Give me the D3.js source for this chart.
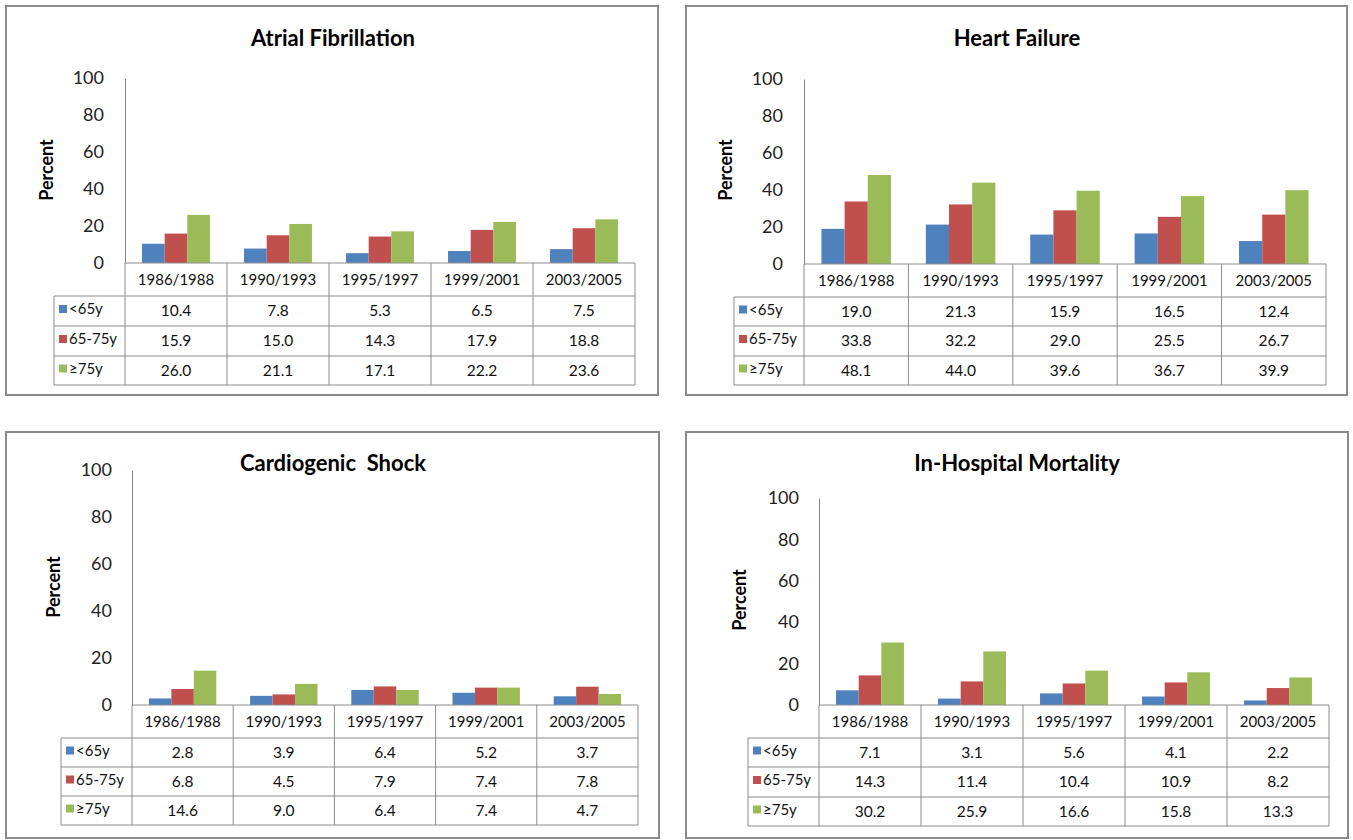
<!DOCTYPE html>
<html>
<head>
<meta charset="utf-8">
<script src="https://cdn.jsdelivr.net/npm/d3@7"></script>
<style>
  body { margin: 0; background: #fff; }
  svg { display: block; font-family: Lato, "Open Sans", sans-serif; }
</style>
</head>
<body>
<svg id="chart" width="1353" height="840"></svg>
<script>
// categories and series shared by the four panels
const periods = ["1986/1988", "1990/1993", "1995/1997", "1999/2001", "2003/2005"];
const ageGroups = ["<65y", "65-75y", "≥75y"];
const yTicks = [0, 20, 40, 60, 80, 100];

// Atrial Fibrillation
const afUnder65 = [10.4, 7.8, 5.3, 6.5, 7.5];
const af65to75 = [15.9, 15.0, 14.3, 17.9, 18.8];
const afOver75 = [26.0, 21.1, 17.1, 22.2, 23.6];

// Heart Failure
const hfUnder65 = [19.0, 21.3, 15.9, 16.5, 12.4];
const hf65to75 = [33.8, 32.2, 29.0, 25.5, 26.7];
const hfOver75 = [48.1, 44.0, 39.6, 36.7, 39.9];

// Cardiogenic Shock
const csUnder65 = [2.8, 3.9, 6.4, 5.2, 3.7];
const cs65to75 = [6.8, 4.5, 7.9, 7.4, 7.8];
const csOver75 = [14.6, 9.0, 6.4, 7.4, 4.7];

// In-Hospital Mortality
const ihmUnder65 = [7.1, 3.1, 5.6, 4.1, 2.2];
const ihm65to75 = [14.3, 11.4, 10.4, 10.9, 8.2];
const ihmOver75 = [30.2, 25.9, 16.6, 15.8, 13.3];

const colors = {"<65y": "#4f81bd", "65-75y": "#c0504d", "≥75y": "#9bbb59"};
const gridColor = "#8c8c8c";

// layout of each panel (pixels)
const panels = [
  {title: "Atrial Fibrillation", series: [afUnder65, af65to75, afOver75],
   box: [6, 6, 658, 395], axisX: 125, tableRight: 635, legendLeft: 54,
   y100: 78, y0: 263, rows: [296, 326, 356, 385], titleX: 333, titleY: 38,
   tickRight: 104, percentX: 47, percentY: 170},
  {title: "Heart Failure", series: [hfUnder65, hf65to75, hfOver75],
   box: [686, 6, 1347, 395], axisX: 804, tableRight: 1326, legendLeft: 734,
   y100: 79, y0: 264, rows: [297, 326, 356, 385], titleX: 1017, titleY: 38,
   tickRight: 783, percentX: 726, percentY: 170},
  {title: "Cardiogenic  Shock", series: [csUnder65, cs65to75, csOver75],
   box: [6, 432, 659, 838], axisX: 132, tableRight: 638, legendLeft: 61,
   y100: 470, y0: 705, rows: [738, 767, 796, 825], titleX: 333, titleY: 463,
   tickRight: 112, percentX: 54, percentY: 587},
  {title: "In-Hospital Mortality", series: [ihmUnder65, ihm65to75, ihmOver75],
   box: [686, 432, 1348, 838], axisX: 819, tableRight: 1329, legendLeft: 748,
   y100: 498, y0: 705, rows: [738, 767, 797, 826], titleX: 1017, titleY: 463,
   tickRight: 799, percentX: 740, percentY: 600}
];

const svg = d3.select("#chart");

panels.forEach(p => drawPanel(p));

function drawPanel(p) {
  const g = svg.append("g");

  // panel frame
  g.append("rect")
    .attr("x", p.box[0]).attr("y", p.box[1])
    .attr("width", p.box[2] - p.box[0]).attr("height", p.box[3] - p.box[1])
    .attr("fill", "#fff").attr("stroke", "#8a8a8a").attr("stroke-width", 2);

  // title
  g.append("text")
    .attr("x", p.titleX).attr("y", p.titleY + 8)
    .attr("text-anchor", "middle")
    .style("white-space", "pre")
    .attr("font-size", 22).attr("font-weight", "bold").attr("fill", "#000")
    .text(p.title);

  // scales
  const x0 = d3.scaleBand().domain(periods).range([p.axisX, p.tableRight]);
  const bw = x0.bandwidth();
  const x1 = d3.scaleBand().domain(ageGroups).range([bw * 0.167, bw * 0.833]);
  const y = d3.scaleLinear().domain([0, 100]).range([p.y0, p.y100]);

  // y axis
  const yAxis = g.append("g")
    .attr("transform", `translate(${p.axisX},0)`)
    .call(d3.axisLeft(y).tickValues(yTicks).tickSize(0).tickPadding(p.axisX - p.tickRight));
  yAxis.select(".domain").attr("stroke", "#868686");
  yAxis.selectAll("text")
    .attr("font-family", "Lato, sans-serif")
    .attr("font-size", 18).attr("fill", "#222");

  // y axis label
  g.append("text")
    .attr("transform", `translate(${p.percentX + 6},${p.percentY}) rotate(-90)`)
    .attr("text-anchor", "middle")
    .attr("font-size", 18).attr("font-weight", "bold")
    .text("Percent");

  // bars
  const barData = [];
  p.series.forEach((vals, si) => {
    vals.forEach((v, ci) => barData.push({period: periods[ci], group: ageGroups[si], value: v}));
  });
  g.append("g").selectAll("rect")
    .data(barData)
    .join("rect")
    .attr("x", d => x0(d.period) + x1(d.group))
    .attr("width", x1.bandwidth())
    .attr("y", d => y(d.value))
    .attr("height", d => y(0) - y(d.value))
    .attr("fill", d => colors[d.group]);

  // data table
  const tbl = g.append("g")
    .attr("stroke", gridColor).attr("stroke-width", 1).attr("fill", "none");
  const rows = p.rows;
  const bottom = rows[rows.length - 1];
  // horizontal lines
  tbl.append("line").attr("x1", p.axisX).attr("x2", p.tableRight).attr("y1", p.y0).attr("y2", p.y0);
  rows.forEach(ry => {
    tbl.append("line").attr("x1", p.legendLeft).attr("x2", p.tableRight).attr("y1", ry).attr("y2", ry);
  });
  // vertical lines
  tbl.append("line").attr("x1", p.legendLeft).attr("x2", p.legendLeft).attr("y1", rows[0]).attr("y2", bottom);
  periods.forEach(c => {
    tbl.append("line").attr("x1", x0(c)).attr("x2", x0(c)).attr("y1", p.y0).attr("y2", bottom);
  });
  tbl.append("line").attr("x1", p.tableRight).attr("x2", p.tableRight).attr("y1", p.y0).attr("y2", bottom);

  // header labels
  g.append("g").selectAll("text")
    .data(periods)
    .join("text")
    .attr("x", d => x0(d) + bw / 2)
    .attr("y", (p.y0 + rows[0]) / 2 + 5)
    .attr("text-anchor", "middle")
    .attr("font-size", 15).attr("fill", "#111")
    .text(d => d);

  // legend cells + values
  ageGroups.forEach((grp, si) => {
    const cy = (rows[si] + rows[si + 1]) / 2;
    g.append("rect")
      .attr("x", p.legendLeft + 5).attr("y", cy - 6)
      .attr("width", 8).attr("height", 8)
      .attr("fill", colors[grp]);
    g.append("text")
      .attr("x", p.legendLeft + 15).attr("y", cy + 3)
      .attr("font-size", 15).attr("fill", "#111")
      .text(grp);
    g.append("g").selectAll("text")
      .data(p.series[si])
      .join("text")
      .attr("x", (d, i) => x0(periods[i]) + bw / 2)
      .attr("y", cy + 5)
      .attr("text-anchor", "middle")
      .attr("font-size", 15.5).attr("fill", "#111")
      .text(d => d.toFixed(1));
  });
}
</script>
</body>
</html>
